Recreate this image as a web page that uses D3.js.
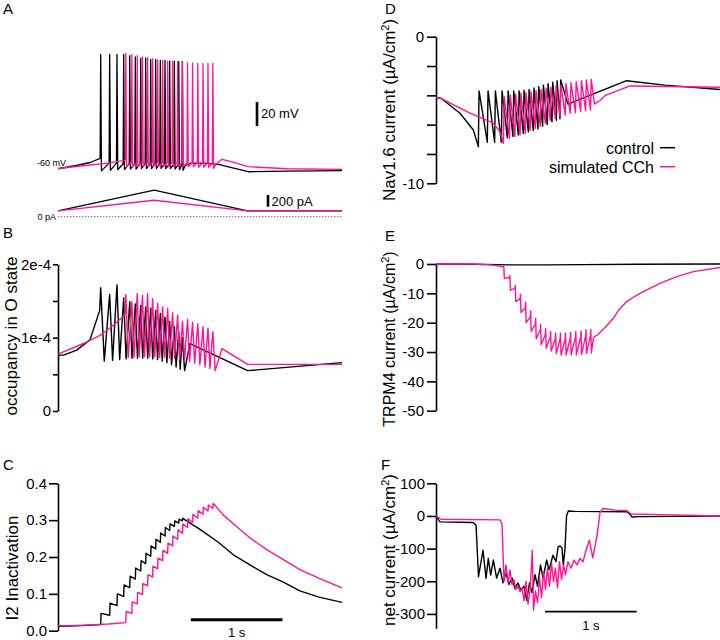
<!DOCTYPE html>
<html><head><meta charset="utf-8">
<script src="https://cdn.jsdelivr.net/npm/d3@7"></script>
<style>
body{margin:0;background:#fff}
svg text{font-family:"Liberation Sans",Arial,Helvetica,sans-serif;fill:#000}
</style>
</head><body>
<svg id="fig" width="720" height="640"></svg>
<script>
// ---------------- DATA ----------------
const seriesNames = ["control", "simulated CCh"];
// spike times (s)
const spikeT_ctrl = [0.466,0.564,0.644,0.717,0.783,0.844,0.903,0.957,1.012,1.066,1.117,1.168,1.219,1.270,1.318,1.357];
const spikeT_cch  = [0.740,0.806,0.865,0.922,0.978,1.033,1.088,1.142,1.197,1.251,1.306,1.359,1.414,1.469,1.526,1.583,1.637,1.690];

// A: membrane potential (mV)
const A_ctrl_lead   = [[0,-60.2],[0.2,-57.5],[0.35,-55]];
const A_ctrl_pre    = [-51.5,-55.5,-55.5,-56,-56,-56,-56,-56,-56,-56,-56,-56,-56.5,-56.5,-56.5,-57];
const A_ctrl_peak   = [35,35,35,35,34,33,32,32,31,31,30,30,29.5,29.5,29,29];
const A_ctrl_trough = [-62,-61.5,-61,-61,-60.5,-60.5,-60,-60,-60,-60,-60,-60,-60,-60.5,-61,-61.5];
const A_ctrl_tail   = [[1.39,-57.5],[1.45,-55.5],[1.6,-55.5],[1.75,-56.5],[2.075,-62.7],[2.5,-62.2],[3.1,-61.8]];
const A_cch_lead    = [[0,-60],[0.3,-57.5],[0.55,-55.5]];
const A_cch_pre     = [-53,-55,-55,-55,-55,-55,-55,-55,-55,-55,-55,-55,-55,-55.5,-55.5,-55.5,-55.5,-55.5];
const A_cch_peak    = [36,35,34,33,32.5,31.5,30.5,30,29.5,29.5,29,28.5,28,28,27.5,27.5,27.5,27.5];
const A_cch_trough  = [-58.5,-58.5,-58.5,-58.5,-58.5,-58.5,-58.5,-58.5,-58.5,-58.5,-58.5,-58.5,-58.5,-58.5,-59,-59,-59,-60];
const A_cch_tail    = [[1.73,-56],[1.79,-52.3],[1.9,-54.5],[2.075,-58.5],[2.5,-60.2],[3.1,-60.7]];
// A: injected current ramp (pA)
const ramp_t    = [0, 1.05, 2.07, 3.1];
const ramp_ctrl = [100, 455, 100, 100];
const ramp_cch  = [100, 280, 100, 100];

// B: occupancy in O state
const B_ctrl_lead   = [[0,0.762e-4],[0.061,0.762e-4],[0.204,0.83e-4],[0.349,0.97e-4],[0.455,1.37e-4]];
const B_ctrl_peak   = [1.68e-4,1.59e-4,1.72e-4,1.54e-4,1.49e-4,1.46e-4,1.44e-4,1.42e-4,1.4e-4,1.37e-4,1.33e-4,1.28e-4,1.22e-4,1.15e-4,1.08e-4,1.0e-4];
const B_ctrl_trough = [0.68e-4,0.69e-4,0.7e-4,0.71e-4,0.72e-4,0.72e-4,0.72e-4,0.72e-4,0.71e-4,0.7e-4,0.68e-4,0.66e-4,0.63e-4,0.6e-4,0.57e-4,0.55e-4];
const B_ctrl_tail   = [[1.44,0.92e-4],[2.07,0.55e-4],[3.1,0.66e-4]];
const B_cch_lead    = [[0,0.776e-4],[0.278,0.92e-4],[0.459,1.03e-4],[0.605,1.17e-4],[0.73,1.31e-4]];
const B_cch_peak    = [1.59e-4,1.49e-4,1.6e-4,1.58e-4,1.6e-4,1.53e-4,1.47e-4,1.42e-4,1.4e-4,1.34e-4,1.31e-4,1.22e-4,1.25e-4,1.21e-4,1.19e-4,1.15e-4,1.13e-4,1.08e-4];
const B_cch_trough  = [0.73e-4,0.73e-4,0.74e-4,0.74e-4,0.74e-4,0.74e-4,0.73e-4,0.73e-4,0.72e-4,0.72e-4,0.7e-4,0.69e-4,0.67e-4,0.65e-4,0.63e-4,0.6e-4,0.58e-4,0.55e-4];
const B_cch_tail    = [[1.79,0.85e-4],[2.07,0.635e-4],[3.1,0.635e-4]];
const B_ticks = [0, 0.5e-4, 1e-4, 1.5e-4, 2e-4];
const B_tickLabels = ["0", "", "1e-4", "", "2e-4"];

// C: I2 inactivation
const C_ctrl_lead = [[0,0.012],[0.2,0.013],[0.35,0.015]];
const C_ctrl_pre  = [0.017,0.042,0.068,0.093,0.117,0.14,0.162,0.182,0.202,0.222,0.24,0.257,0.272,0.283,0.292,0.298];
const C_ctrl_post = [0.047,0.075,0.1,0.124,0.148,0.17,0.19,0.21,0.23,0.248,0.265,0.28,0.29,0.298,0.303,0.305];
const C_ctrl_tail = [[1.55,0.275],[1.75,0.24],[1.914,0.206],[2.1,0.178],[2.278,0.152],[2.46,0.132],[2.64,0.108],[2.85,0.091],[3.1,0.077]];
const C_cch_lead  = [[0,0.013],[0.3,0.015],[0.55,0.018]];
const C_cch_pre   = [0.022,0.047,0.073,0.098,0.122,0.146,0.168,0.19,0.21,0.23,0.248,0.264,0.28,0.294,0.305,0.316,0.325,0.332];
const C_cch_post  = [0.052,0.078,0.104,0.128,0.152,0.175,0.197,0.218,0.238,0.257,0.274,0.29,0.304,0.316,0.326,0.335,0.341,0.346];
const C_cch_tail  = [[1.8,0.315],[1.914,0.29],[2.1,0.251],[2.278,0.22],[2.46,0.193],[2.64,0.166],[2.85,0.142],[3.1,0.116]];
const C_ticks = [0, 0.1, 0.2, 0.3, 0.4];
const C_tickLabels = ["0.0", "0.1", "0.2", "0.3", "0.4"];

// D: Nav1.6 current (uA/cm2)
const D_ctrl_lead = [[0,-4.16],[0.055,-4.2],[0.262,-5.22],[0.408,-6.36]];
const D_ctrl_lo   = [-7.5,-7.2,-7.2,-7.2,-6.9,-6.8,-6.7,-6.6,-6.5,-6.4,-6.3,-6.1,-6.0,-5.8,-5.7,-5.6];
const D_ctrl_hi   = [-3.7,-3.7,-3.7,-3.7,-3.7,-3.7,-3.7,-3.65,-3.6,-3.5,-3.4,-3.3,-3.2,-3.1,-3.0,-2.95];
const D_ctrl_tail = [[1.44,-4.6],[2.08,-3.0],[2.5,-3.3],[3.1,-3.6]];
const D_cch_lead  = [[0,-4.16],[0.055,-4.2],[0.371,-5.22],[0.626,-5.9],[0.70,-6.5]];
const D_cch_lo    = [-7.27,-6.93,-6.8,-6.7,-6.6,-6.4,-6.25,-6.1,-5.9,-5.7,-5.56,-5.45,-5.34,-5.22,-5.18,-5.1,-5.05,-5.0];
const D_cch_hi    = [-4.09,-3.97,-3.93,-3.86,-3.82,-3.75,-3.68,-3.59,-3.52,-3.45,-3.36,-3.3,-3.18,-3.14,-3.07,-3.0,-2.95,-2.9];
const D_cch_tail  = [[1.73,-4.6],[1.79,-4.35],[1.85,-4.0],[2.118,-3.36],[3.1,-3.45]];
const D_ticks = [0, -2, -4, -6, -8, -10];
const D_tickLabels = ["0", "", "", "", "", "-10"];

// E: TRPM4 current (uA/cm2)
const E_ctrl      = [[0,0],[0.4,-0.1],[0.8,-0.3],[1.2,-0.3],[1.6,-0.2],[2.2,-0.1],[3.1,0]];
const E_cch_lead  = [[0,0],[0.4,0],[0.6,-0.3],[0.72,-0.9]];
const E_cch_pre   = [-0.9,-4.6,-8.3,-11.8,-15,-18,-20.5,-22.5,-24,-25,-25.5,-25.5,-25.5,-25.3,-25,-24.8,-24.5,-24.3];
const E_cch_tip   = [-0.9,-4.0,-7.3,-10.3,-13,-16,-18.5,-20.5,-22,-23,-23.5,-23.5,-23.5,-23.3,-23,-22.8,-22.5,-22.3];
const E_cch_bot   = [-4.9,-8.9,-12.8,-16.5,-20,-23,-25.5,-27.5,-28.7,-29.7,-30.5,-31,-31,-31,-31,-30.8,-30.5,-30.3];
const E_cch_tail  = [[1.72,-25],[1.761,-24.2],[1.85,-21.5],[1.935,-18.5],[2.0,-15.5],[2.082,-12.8],[2.17,-11],[2.263,-9.4],[2.445,-6.6],[2.627,-4.3],[2.809,-2.6],[3.1,-1.2]];
const E_ticks = [0, -10, -20, -30, -40, -50];
const E_tickLabels = ["0", "-10", "-20", "-30", "-40", "-50"];

// F: net current (uA/cm2)
const F_ctrl = [[0,0],[0.044,-18],[0.404,-20],[0.437,-28],[0.464,-186],[0.513,-105],[0.546,-191],[0.571,-130],[0.597,-181],[0.626,-135],[0.662,-190],[0.699,-160],[0.731,-205],[0.764,-175],[0.797,-210],[0.830,-190],[0.862,-222],[0.895,-205],[0.928,-228],[0.961,-215],[0.990,-258],[1.021,-205],[1.048,-235],[1.081,-180],[1.108,-215],[1.141,-150],[1.168,-190],[1.208,-135],[1.234,-165],[1.277,-120],[1.310,-140],[1.332,-95],[1.354,-92],[1.375,-98],[1.390,-150],[1.408,-100],[1.425,0],[1.444,15],[1.517,14],[2.082,13],[2.107,8],[2.140,-3],[2.227,-2],[3.1,0]];
const F_cch = [[0,0],[0.055,-10],[0.699,-12],[0.721,-25],[0.742,-200],[0.764,-150],[0.786,-205],[0.808,-165],[0.830,-210],[0.851,-195],[0.873,-225],[0.895,-215],[0.917,-232],[0.939,-220],[0.961,-260],[0.982,-200],[1.004,-270],[1.026,-230],[1.051,-105],[1.064,-288],[1.086,-230],[1.108,-265],[1.130,-190],[1.152,-250],[1.174,-170],[1.195,-225],[1.217,-160],[1.239,-215],[1.261,-145],[1.283,-200],[1.304,-160],[1.326,-220],[1.348,-140],[1.370,-195],[1.392,-150],[1.414,-180],[1.441,-140],[1.474,-160],[1.507,-135],[1.539,-150],[1.572,-130],[1.605,-140],[1.638,-105],[1.674,-74],[1.711,-128],[1.758,-60],[1.790,10],[1.823,23],[1.954,18],[2.085,16],[2.129,6],[2.445,4],[3.1,0]];
const F_ticks = [100, 0, -100, -200, -300];
const F_tickLabels = ["100", "0", "-100", "-200", "-300"];

// ---------------- BUILDERS ----------------
function trainV(lead, T, pre, pk, tr, tail) {
  const p = lead.slice();
  T.forEach((t, i) => p.push([t - 0.006, pre[i]], [t, pk[i]], [t + 0.008, tr[i]]));
  return p.concat(tail);
}
function trainZig(lead, T, pk, tr, tail) {
  const p = lead.slice();
  T.forEach((t, i) => {
    const dt = i < T.length - 1 ? (T[i + 1] - t) * 0.4 : 0.025;
    p.push([t, pk[i]], [t + dt, tr[i]]);
  });
  return p.concat(tail);
}
function trainSaw(lead, T, lo, hi, tail) {
  const p = lead.slice();
  T.forEach((t, i) => p.push([t - 0.004, lo[i]], [t + 0.004, hi[i]]));
  return p.concat(tail);
}
function trainStair(lead, T, pre, post, tail) {
  const p = lead.slice();
  T.forEach((t, i) => p.push([t, pre[i]], [t + 0.004, post[i]]));
  return p.concat(tail);
}
function trainE(lead, T, pre, tip, bot, tail) {
  const p = lead.slice();
  T.forEach((t, i) => p.push([t - 0.004, pre[i]], [t, tip[i]], [t + 0.006, bot[i]]));
  return p.concat(tail);
}

// ---------------- DRAW ----------------
const PINK = "#ff1493", BLACK = "#000";
const svg = d3.select("#fig");
const xL = d3.scaleLinear().domain([0, 3.1]).range([58, 342]);
const xR = d3.scaleLinear().domain([0, 3.1]).range([436, 720]);

const yAV = d3.scaleLinear().domain([-60, 40]).range([168.5, 48.5]);
const yAI = d3.scaleLinear().domain([0, 500]).range([216.7, 187.45]);
const yB = d3.scaleLinear().domain([0, 2e-4]).range([411, 264.3]);
const yC = d3.scaleLinear().domain([0, 0.4]).range([630.7, 483.3]);
const yD = d3.scaleLinear().domain([-10, 0]).range([183.3, 36.7]);
const yE = d3.scaleLinear().domain([-50, 0]).range([410.7, 264]);
const yF = d3.scaleLinear().domain([-344, 100]).range([628.3, 483.3]);

function trace(x, y, pts, color, w) {
  svg.append("path").datum(pts)
    .attr("d", d3.line().x(d => x(d[0])).y(d => y(d[1])))
    .attr("fill", "none").attr("stroke", color)
    .attr("stroke-width", w || 1.4).attr("stroke-linejoin", "round");
}
function yAxis(xPos, y, ticks, labels, size, pad) {
  const g = svg.append("g").attr("transform", `translate(${xPos},0)`)
    .call(d3.axisLeft(y).tickValues(ticks).tickFormat((d, i) => labels[i])
      .tickSize(size).tickSizeOuter(0).tickPadding(pad));
  g.select(".domain").attr("stroke", "#000").attr("stroke-width", 1.6);
  g.selectAll(".tick line").attr("stroke", "#000").attr("stroke-width", 1.6);
  g.selectAll(".tick text").attr("font-size", 15).attr("fill", "#000")
    .attr("font-family", "Liberation Sans, Arial, sans-serif");
}
function txt(x, y, s, size, anchor) {
  return svg.append("text").attr("x", x).attr("y", y).attr("font-size", size)
    .attr("text-anchor", anchor || "start").text(s);
}
function vlabel(cx, cy, main, sup, fs) {
  const t = svg.append("text").attr("transform", `translate(${cx},${cy}) rotate(-90)`)
    .attr("text-anchor", "middle").attr("font-size", fs || 17).attr("dy", "0.35em");
  t.append("tspan").text(main);
  if (sup) {
    t.append("tspan").attr("font-size", 11).attr("dy", -6).text("2");
    t.append("tspan").attr("dy", 6).text(")");
  }
}

// Panel letters
txt(3, 14, "A", 15); txt(3, 238, "B", 15); txt(3, 470, "C", 15);
txt(385, 14, "D", 15); txt(385, 241, "E", 15); txt(381, 470, "F", 15);

// ---- A ----
svg.append("line").attr("x1", xL(0)).attr("x2", xL(3.1)).attr("y1", yAI(0)).attr("y2", yAI(0))
  .attr("stroke", "#333").attr("stroke-width", 0.7).attr("stroke-dasharray", "1.5,1.5");
trace(xL, yAI, ramp_t.map((t, i) => [t, ramp_ctrl[i]]), BLACK);
trace(xL, yAI, ramp_t.map((t, i) => [t, ramp_cch[i]]), PINK);
trace(xL, yAV, trainV(A_ctrl_lead, spikeT_ctrl, A_ctrl_pre, A_ctrl_peak, A_ctrl_trough, A_ctrl_tail), BLACK, 1.3);
trace(xL, yAV, trainV(A_cch_lead, spikeT_cch, A_cch_pre, A_cch_peak, A_cch_trough, A_cch_tail), PINK, 1.3);
txt(37, 165.5, "-60 mV", 9);
txt(37.5, 220, "0 pA", 9);
// scale bars
svg.append("line").attr("x1", 257).attr("x2", 257).attr("y1", yAV(-24.6)).attr("y2", yAV(-4.6))
  .attr("stroke", "#000").attr("stroke-width", 2.6);
txt(261, 118, "20 mV", 13);
svg.append("line").attr("x1", 268).attr("x2", 268).attr("y1", yAI(171)).attr("y2", yAI(371))
  .attr("stroke", "#000").attr("stroke-width", 2.6);
txt(271.5, 205.5, "200 pA", 13);

// ---- B ----
yAxis(58, yB, B_ticks, B_tickLabels, 5, 2);
trace(xL, yB, trainZig(B_ctrl_lead, spikeT_ctrl, B_ctrl_peak, B_ctrl_trough, B_ctrl_tail), BLACK);
trace(xL, yB, trainZig(B_cch_lead, spikeT_cch, B_cch_peak, B_cch_trough, B_cch_tail), PINK);
vlabel(11.5, 336, "occupancy in O state");

// ---- C ----
yAxis(58, yC, C_ticks, C_tickLabels, 9, 2);
trace(xL, yC, trainStair(C_ctrl_lead, spikeT_ctrl, C_ctrl_pre, C_ctrl_post, C_ctrl_tail), BLACK);
trace(xL, yC, trainStair(C_cch_lead, spikeT_cch, C_cch_pre, C_cch_post, C_cch_tail), PINK);
vlabel(12, 568, "I2 Inactivation");
svg.append("line").attr("x1", xL(1.45)).attr("x2", xL(2.45)).attr("y1", 619.7).attr("y2", 619.7)
  .attr("stroke", "#000").attr("stroke-width", 3);
txt(xL(1.95), 637, "1 s", 13, "middle");

// ---- D ----
yAxis(436, yD, D_ticks, D_tickLabels, 9, 3);
trace(xR, yD, trainSaw(D_ctrl_lead, spikeT_ctrl, D_ctrl_lo, D_ctrl_hi, D_ctrl_tail), BLACK);
trace(xR, yD, trainSaw(D_cch_lead, spikeT_cch, D_cch_lo, D_cch_hi, D_cch_tail), PINK);
vlabel(389, 110, "Nav1.6 current (µA/cm", true);
// legend
txt(654, 153.5, seriesNames[0], 16, "end");
svg.append("line").attr("x1", 660).attr("x2", 675).attr("y1", 147.7).attr("y2", 147.7).attr("stroke", BLACK).attr("stroke-width", 1.5);
txt(654, 172.5, seriesNames[1], 16, "end");
svg.append("line").attr("x1", 660).attr("x2", 675).attr("y1", 166.7).attr("y2", 166.7).attr("stroke", PINK).attr("stroke-width", 1.5);

// ---- E ----
yAxis(436, yE, E_ticks, E_tickLabels, 9, 3);
trace(xR, yE, E_ctrl, BLACK);
trace(xR, yE, trainE(E_cch_lead, spikeT_cch, E_cch_pre, E_cch_tip, E_cch_bot, E_cch_tail), PINK);
vlabel(389, 339, "TRPM4 current (µA/cm", true, 16);

// ---- F ----
yAxis(436, yF, F_ticks, F_tickLabels, 9, 2);
trace(xR, yF, F_ctrl, BLACK);
trace(xR, yF, F_cch, PINK);
vlabel(389, 550, "net current (µA/cm", true);
svg.append("line").attr("x1", xR(1.19)).attr("x2", xR(2.19)).attr("y1", 611.7).attr("y2", 611.7)
  .attr("stroke", "#000").attr("stroke-width", 1.8);
txt(xR(1.69), 630, "1 s", 13, "middle");
</script>
</body></html>
